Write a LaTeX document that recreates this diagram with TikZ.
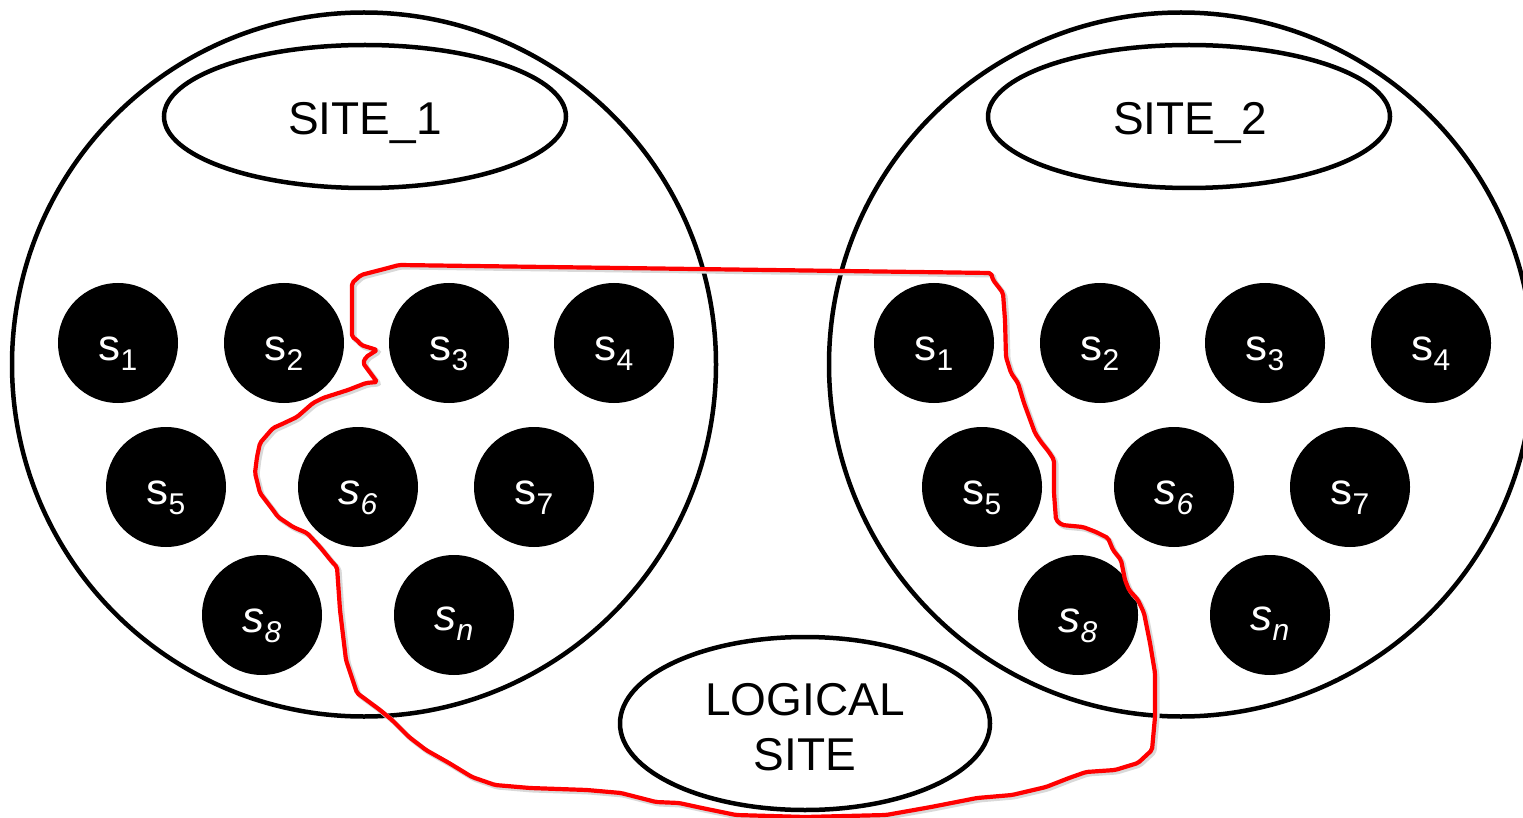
\documentclass[tikz,border=0pt]{standalone}
\usepackage{fontspec}
\setmainfont{Liberation Sans}
\usetikzlibrary{shapes.geometric}
\newcommand{\sbs}[1]{\raisebox{-10pt}{\fontsize{30}{32}\selectfont #1}}
\begin{document}
\begin{tikzpicture}[x=1pt,y=-1pt,
  big/.style={draw, line width=4.5pt, circle, minimum size=704pt, inner sep=0pt},
  oval/.style={draw, line width=4.5pt, ellipse, inner sep=0pt},
  dot/.style={fill=black, circle, minimum size=120pt, inner sep=0pt},
  lab/.style={text=white, anchor=base, inner sep=0pt, font=\fontsize{44}{50}\selectfont},
  title/.style={inner sep=0pt, font=\fontsize{46}{55}\selectfont, align=center},
  boundary/.style={draw=red, line width=4.2pt, line join=round, rounded corners=2pt,
    preaction={draw=black!15, line width=5pt, transform canvas={shift={(2pt,-2pt)}}}},
]
\useasboundingbox (0,0) rectangle (1523,818);
\clip (0,0) rectangle (1523,818);
\fill[white] (0,0) rectangle (1523,818);

% big circles
\node[big] (site1c) at (364,364.5) {};
\node[big] (site2c) at (1181,364.5) {};

% ellipses
\node[oval, minimum width=402pt, minimum height=143pt] (site1) at (365,116.5) {};
\node[oval, minimum width=402pt, minimum height=143pt] (site2) at (1189,116.5) {};
\node[oval, minimum width=370pt, minimum height=173pt] (logical) at (805,723.5) {};
\node[title, anchor=base] (site1t) at (365,135) {SITE\_1};
\node[title, anchor=base] (site2t) at (1190,135) {SITE\_2};
\node[title] (logicalt) at (805,727.5) {LOGICAL\\SITE};

% left site servers
\node[dot] (a1) at (118,343) {};
\node[dot] (a2) at (284,343) {};
\node[dot] (a3) at (449,343) {};
\node[dot] (a4) at (614,343) {};
\node[dot] (a5) at (166,487) {};
\node[dot] (a6) at (358,487) {};
\node[dot] (a7) at (534,487) {};
\node[dot] (a8) at (262,615) {};
\node[dot] (an) at (454,615) {};
\node[lab] (a1t) at (118,360.5) {s\sbs{1}};
\node[lab] (a2t) at (284,360.5) {s\sbs{2}};
\node[lab] (a3t) at (449,360.5) {s\sbs{3}};
\node[lab] (a4t) at (614,360.5) {s\sbs{4}};
\node[lab] (a5t) at (166,504.5) {s\sbs{5}};
\node[lab] (a6t) at (358,504.5) {\itshape s\sbs{\itshape 6}};
\node[lab] (a7t) at (534,504.5) {s\sbs{7}};
\node[lab] (a8t) at (262,632.5) {\itshape s\sbs{\itshape 8}};
\node[lab] (ant) at (454,630.5) {\itshape s\sbs{\itshape n}};

% right site servers
\node[dot] (b1) at (934,343) {};
\node[dot] (b2) at (1100,343) {};
\node[dot] (b3) at (1265,343) {};
\node[dot] (b4) at (1431,343) {};
\node[dot] (b5) at (982,487) {};
\node[dot] (b6) at (1174,487) {};
\node[dot] (b7) at (1350,487) {};
\node[dot] (b8) at (1078,615) {};
\node[dot] (bn) at (1270,615) {};
\node[lab] (b1t) at (934,360.5) {s\sbs{1}};
\node[lab] (b2t) at (1100,360.5) {s\sbs{2}};
\node[lab] (b3t) at (1265,360.5) {s\sbs{3}};
\node[lab] (b4t) at (1431,360.5) {s\sbs{4}};
\node[lab] (b5t) at (982,504.5) {s\sbs{5}};
\node[lab] (b6t) at (1174,504.5) {\itshape s\sbs{\itshape 6}};
\node[lab] (b7t) at (1350,504.5) {s\sbs{7}};
\node[lab] (b8t) at (1078,632.5) {\itshape s\sbs{\itshape 8}};
\node[lab] (bnt) at (1270,630.5) {\itshape s\sbs{\itshape n}};

% logical site boundary
\path[boundary] (352,337) -- (352,283) -- (361,275) -- (388,268) -- (399,265) -- (991,273)
 -- (993,280) -- (997,285) -- (1003,293) -- (1005,320) -- (1006,357) -- (1011,373)
 -- (1018,383) -- (1024,403) -- (1035,433) -- (1041,442) -- (1049,452) -- (1054,460)
 -- (1054,493) -- (1056,520) -- (1062,525) -- (1083,527) -- (1096,532) -- (1108,538)
 -- (1113,550) -- (1121,560) -- (1125,580) -- (1129,590) -- (1138,600) -- (1144,613)
 -- (1150,643) -- (1155,673) -- (1155,717) -- (1152,750) -- (1138,763) -- (1115,770)
 -- (1086,772) -- (1069,778) -- (1046,787) -- (1012,795) -- (977,798) -- (931,807)
 -- (886,815) -- (805,817) -- (736,815) -- (702,808) -- (679,803) -- (656,802)
 -- (621,793) -- (587,790) -- (530,788) -- (495,785) -- (472,777) -- (449,763)
 -- (426,750) -- (409,737) -- (392,720) -- (380,710) -- (357,693) -- (346,660)
 -- (340,610) -- (337,567) -- (333,563) -- (320,547) -- (307,533) -- (293,527)
 -- (278,517) -- (273,510) -- (260,493) -- (255,473) -- (257,457) -- (260,443)
 -- (273,428) -- (280,425) -- (297,417) -- (313,403) -- (323,398) -- (348,390)
 -- (366,383) -- (377,382) -- (363,363) -- (366,357) -- (377,350) -- (361,345)
 -- (357,340) -- cycle;
\end{tikzpicture}
\end{document}
